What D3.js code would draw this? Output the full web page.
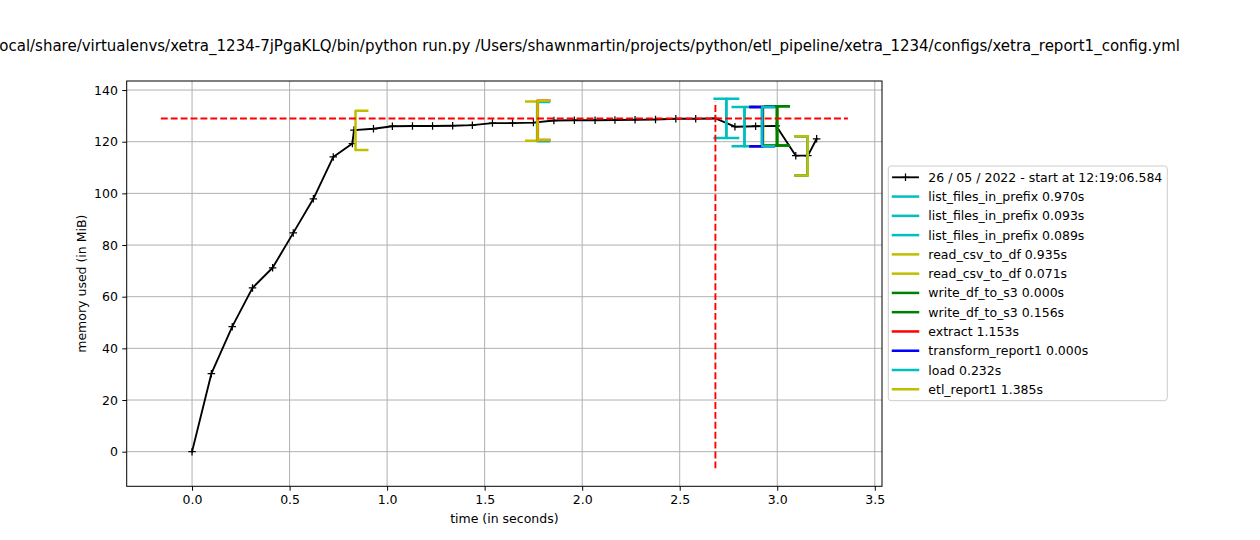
<!DOCTYPE html>
<html>
<head>
<meta charset="utf-8">
<script src="https://cdn.jsdelivr.net/npm/d3@7"></script>
<style>
body { margin: 0; background: #fff; }
text { font-family: "DejaVu Sans", sans-serif; }
</style>
</head>
<body>
<svg id="chart" width="1260" height="540"></svg>
<script>
// memory samples (seconds since start, MiB)
var sampleTime = [0.000, 0.099, 0.206, 0.310, 0.413, 0.519, 0.622, 0.724, 0.822, 0.830,
    0.930, 1.027, 1.130, 1.233, 1.336, 1.437, 1.540, 1.643, 1.750, 1.855,
    1.960, 2.066, 2.168, 2.271, 2.376, 2.480, 2.582, 2.683, 2.783, 2.889,
    2.995, 3.095, 3.157, 3.202];
var memUsed = [0.0, 30.2, 48.4, 63.4, 71.2, 84.7, 97.9, 114.1, 119.3, 124.5,
    125.0, 126.0, 126.1, 126.1, 126.2, 126.4, 127.2, 127.2, 127.4, 128.2,
    128.3, 128.3, 128.4, 128.5, 128.6, 128.9, 128.9, 129.0, 125.8, 126.0,
    126.1, 114.6, 114.6, 121.1];

// profiled function executions, in legend order
var funcName = ["list_files_in_prefix", "list_files_in_prefix", "list_files_in_prefix",
    "read_csv_to_df", "read_csv_to_df", "write_df_to_s3", "write_df_to_s3",
    "extract", "transform_report1", "load", "etl_report1"];
var execStart = [1.769, 2.739, 2.832, 0.838, 2.928, 2.999, 2.999, 1.771, 2.923, 2.923, 1.771];
var execDuration = [0.970, 0.093, 0.089, 0.935, 0.071, 0.000, 0.156, 1.153, 0.000, 0.232, 1.385];
var execMemStart = [127.8, 129.0, 125.8, 124.4, 126.0, 126.1, 126.1, 128.3, 125.8, 125.8, 128.3];
var execMemEnd = [129.0, 125.8, 125.8, 128.0, 126.1, 126.1, 114.5, 125.8, 125.8, 114.5, 114.5];

var xTicks = [0, 0.5, 1.0, 1.5, 2.0, 2.5, 3.0, 3.5];
var yTicks = [0, 20, 40, 60, 80, 100, 120, 140];
var runLabel = "26 / 05 / 2022 - start at 12:19:06.584";
var titleText = "/Users/shawnmartin/.local/share/virtualenvs/xetra_1234-7jPgaKLQ/bin/python run.py /Users/shawnmartin/projects/python/etl_pipeline/xetra_1234/configs/xetra_report1_config.yml";

// mprof color cycle, one color per function
var colorCycle = ["#00bfbf", "#bfbf00", "#008000", "#ff0000", "#0000ff"];
var funcColor = {};
funcName.forEach(function (f) {
    if (!(f in funcColor)) funcColor[f] = colorCycle[Object.keys(funcColor).length % colorCycle.length];
});

var svg = d3.select("#chart");
var axLeft = 126.7, axRight = 882, axTop = 81, axBottom = 486.3;

var x = d3.scaleLinear().domain([-0.335, 3.537]).range([axLeft, axRight]);
var y = d3.scaleLinear().domain([-13.4, 143.5]).range([axBottom, axTop]);

// grid
svg.append("g").selectAll("line").data(xTicks).join("line")
    .attr("x1", d => x(d)).attr("x2", d => x(d))
    .attr("y1", axTop).attr("y2", axBottom)
    .attr("stroke", "#b0b0b0").attr("stroke-width", 1);
svg.append("g").selectAll("line").data(yTicks).join("line")
    .attr("x1", axLeft).attr("x2", axRight)
    .attr("y1", d => y(d)).attr("y2", d => y(d))
    .attr("stroke", "#b0b0b0").attr("stroke-width", 1);

var plot = svg.append("g");

// memory line
var pts = sampleTime.map(function (t, i) { return [t, memUsed[i]]; });
plot.append("path")
    .attr("d", d3.line().x(d => x(d[0])).y(d => y(d[1]))(pts))
    .attr("fill", "none").attr("stroke", "black").attr("stroke-width", 1.875)
    .attr("stroke-linecap", "square").attr("stroke-linejoin", "round");
plot.append("g").selectAll("path").data(pts).join("path")
    .attr("d", function (d) {
        var px = x(d[0]), py = y(d[1]);
        return "M" + (px - 3.75) + "," + py + "H" + (px + 3.75) + "M" + px + "," + (py - 3.75) + "V" + (py + 3.75);
    })
    .attr("stroke", "black").attr("stroke-width", 1.25);

// brackets
var vsize = 7.6, hsize = 0.06;
var bline = d3.line().x(d => x(d[0])).y(d => y(d[1]));
funcName.forEach(function (f, i) {
    var t0 = execStart[i], t1 = execStart[i] + execDuration[i];
    var m0 = execMemStart[i], m1 = execMemEnd[i];
    var open = [[t0 + hsize, m0 + vsize], [t0, m0 + vsize], [t0, m0 - vsize], [t0 + hsize, m0 - vsize]];
    var close = [[t1 - hsize, m1 + vsize], [t1, m1 + vsize], [t1, m1 - vsize], [t1 - hsize, m1 - vsize]];
    [open, close].forEach(function (b) {
        plot.append("path").attr("d", bline(b))
            .attr("fill", "none").attr("stroke", funcColor[f]).attr("stroke-width", 2.5)
            .attr("stroke-linecap", "square").attr("stroke-linejoin", "round");
    });
});

// max memory markers
var maxMem = d3.max(memUsed);
var maxT = sampleTime[memUsed.indexOf(maxMem)];
var tPad = (d3.max(sampleTime) - d3.min(sampleTime)) * 0.05;
var mPad = (maxMem - d3.min(memUsed)) * 0.05;
plot.append("line")
    .attr("x1", x(d3.min(sampleTime) - tPad)).attr("x2", x(d3.max(sampleTime) + tPad))
    .attr("y1", y(maxMem)).attr("y2", y(maxMem))
    .attr("stroke", "red").attr("stroke-width", 1.875).attr("stroke-dasharray", "6.9,3");
plot.append("line")
    .attr("x1", x(maxT)).attr("x2", x(maxT))
    .attr("y1", y(d3.min(memUsed) - mPad)).attr("y2", y(maxMem + mPad))
    .attr("stroke", "red").attr("stroke-width", 1.875).attr("stroke-dasharray", "6.9,3");

// axes
var xAxis = svg.append("g").attr("transform", "translate(0," + axBottom + ")")
    .call(d3.axisBottom(x).tickValues(xTicks).tickFormat(d3.format(".1f")).tickSize(4.4).tickPadding(4.4).tickSizeOuter(0));
var yAxis = svg.append("g").attr("transform", "translate(" + axLeft + ",0)")
    .call(d3.axisLeft(y).tickValues(yTicks).tickFormat(d3.format("d")).tickSize(4.4).tickPadding(4.4).tickSizeOuter(0));
[xAxis, yAxis].forEach(function (a) {
    a.select(".domain").remove();
    a.selectAll(".tick line").attr("stroke", "black").attr("stroke-width", 1);
    a.selectAll(".tick text").attr("fill", "black")
        .style("font-family", "'DejaVu Sans', sans-serif").style("font-size", "12.5px");
});

svg.append("rect").attr("x", axLeft).attr("y", axTop)
    .attr("width", axRight - axLeft).attr("height", axBottom - axTop)
    .attr("fill", "none").attr("stroke", "black").attr("stroke-width", 1);

// labels
svg.append("text").attr("x", (axLeft + axRight) / 2).attr("y", 523)
    .attr("text-anchor", "middle").style("font-size", "12.5px").text("time (in seconds)");
svg.append("text").attr("transform", "translate(86," + ((axTop + axBottom) / 2) + ") rotate(-90)")
    .attr("text-anchor", "middle").style("font-size", "12.5px").text("memory used (in MiB)");
svg.append("text").attr("x", 1180).attr("y", 51)
    .attr("text-anchor", "end").style("font-size", "15px").text(titleText);

// legend
var lg = svg.append("g");
lg.append("rect").attr("x", 888.3).attr("y", 166).attr("width", 279).attr("height", 234.7)
    .attr("rx", 3).attr("fill", "white").attr("fill-opacity", 0.8)
    .attr("stroke", "#cccccc").attr("stroke-width", 1);
var entries = [{ label: runLabel, color: "black", mem: true }].concat(funcName.map(function (f, i) {
    return { label: f + " " + execDuration[i].toFixed(3) + "s", color: funcColor[f], mem: false };
}));
entries.forEach(function (e, i) {
    var ry = 177.3 + i * 19.27;
    lg.append("line").attr("x1", 893).attr("x2", 918).attr("y1", ry).attr("y2", ry)
        .attr("stroke", e.color).attr("stroke-width", e.mem ? 1.875 : 2.5)
        .attr("stroke-linecap", "square");
    if (e.mem) {
        lg.append("path").attr("d", "M" + 901.75 + "," + ry + "H" + 909.25 + "M" + 905.5 + "," + (ry - 3.75) + "V" + (ry + 3.75))
            .attr("stroke", "black").attr("stroke-width", 1.25);
    }
    lg.append("text").attr("x", 928.3).attr("y", ry).attr("dy", "0.36em")
        .style("font-size", "12.5px").text(e.label);
});
</script>
</body>
</html>
